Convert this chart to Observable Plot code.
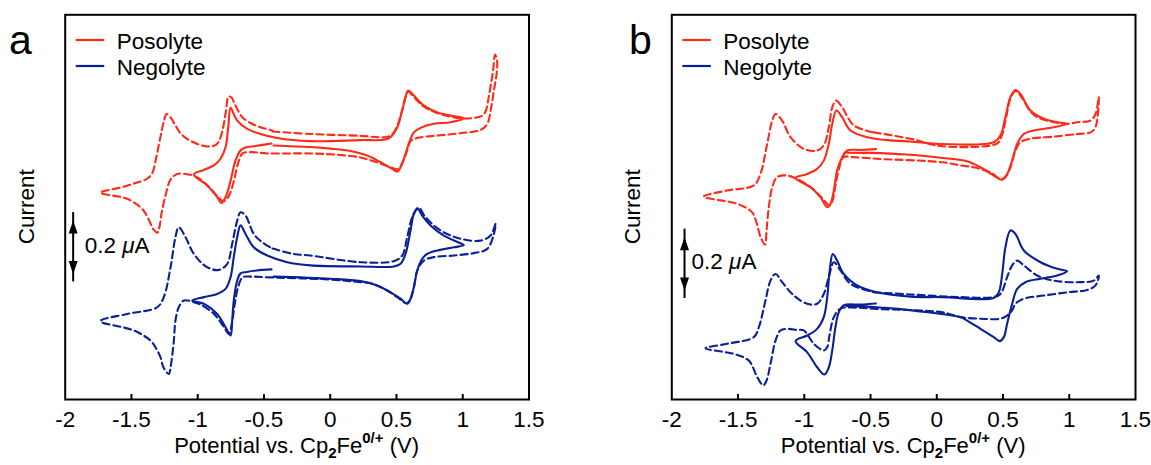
<!DOCTYPE html>
<html>
<head>
<meta charset="utf-8">
<script src="https://cdn.jsdelivr.net/npm/d3@7"></script>
<script src="https://cdn.jsdelivr.net/npm/@observablehq/plot@0.6"></script>
<style>
  body { margin: 0; background: #fff; }
  #charts { display: flex; width: 1151px; height: 465px; overflow: hidden; }
  #charts svg { flex: none; }
</style>
</head>
<body>
<div id="charts"></div>
<script>
// Cyclic voltammograms, potential E in V vs Cp2Fe0/+, current I in nA
// (each trace carries its own vertical offset so the curves stack).

const xTicks = [-2, -1.5, -1, -0.5, 0, 0.5, 1, 1.5];
const seriesNames = ["Posolyte", "Negolyte"];
const seriesColors = ["#ff2a17", "#0b1f96"];
const scaleBarMicroamps = 0.2;

// ---- panel a ----
const aPosSolidE = [-0.443,-0.564,-0.639,-0.677,-0.715,-0.752,-0.790,-0.823,-0.853,-0.928,-1.029,-0.954,-0.878,-0.828,-0.790,-0.770,-0.752,-0.730,-0.702,-0.626,-0.526,-0.400,-0.149,0.229,0.417,0.455,0.506,0.543,0.568,0.589,0.631,0.706,0.808,0.908,1.008,0.908,0.782,0.682,0.631,0.601,0.568,0.531,0.506,0.468,0.380,0.279,0.153,0.002,-0.149,-0.428];
const aPosSolidI = [960,951,945,934,896,821,759,737,759,803,844,861,878,903,946,1021,1095,1073,1046,1015,996,981,969,973,975,984,1021,1084,1134,1159,1140,1103,1077,1065,1055,1040,1034,1019,1002,971,921,871,855,865,890,915,932,941,947,953];

const aPosDashE = [-0.435,-0.149,0.229,0.417,0.463,0.504,0.542,0.568,0.587,0.629,0.704,0.810,0.908,1.006,1.082,1.142,1.172,1.191,1.210,1.229,1.244,1.259,1.255,1.235,1.215,1.185,1.134,0.983,0.808,0.657,0.606,0.581,0.546,0.508,0.432,0.327,0.229,0.078,-0.149,-0.473,-0.602,-0.662,-0.696,-0.730,-0.768,-0.805,-0.843,-0.918,-1.002,-1.069,-1.155,-1.205,-1.243,-1.273,-1.288,-1.303,-1.334,-1.356,-1.394,-1.432,-1.532,-1.734,-1.583,-1.469,-1.379,-1.341,-1.318,-1.296,-1.273,-1.254,-1.235,-1.205,-1.168,-1.130,-1.077,-1.032,-0.979,-0.926,-0.881,-0.851,-0.828,-0.805,-0.786,-0.768,-0.745,-0.722,-0.692,-0.662,-0.602,-0.526,-0.435];
const aPosDashI = [1005,996,989,984,992,1024,1084,1133,1155,1136,1099,1074,1061,1054,1056,1063,1080,1121,1174,1234,1294,1271,1219,1159,1096,1034,1011,999,990,981,969,934,889,864,876,894,908,917,923,923,928,923,885,814,761,743,758,799,833,844,846,825,765,698,649,626,638,660,698,721,753,776,795,812,829,851,896,949,1005,1046,1071,1058,1028,998,977,965,954,949,951,960,983,1028,1084,1136,1133,1110,1080,1058,1037,1021,1009];

const aNegSolidE = [-0.443,-0.556,-0.632,-0.677,-0.702,-0.728,-0.740,-0.752,-0.790,-0.853,-0.954,-1.042,-0.954,-0.853,-0.790,-0.752,-0.728,-0.702,-0.677,-0.639,-0.577,-0.475,-0.325,-0.149,0.229,0.480,0.531,0.568,0.606,0.631,0.661,0.694,0.757,0.857,0.983,1.008,0.933,0.808,0.732,0.694,0.657,0.631,0.606,0.581,0.531,0.455,0.355,0.229,0.002,-0.428];
const aNegSolidI = [488,484,478,473,446,371,296,240,271,321,359,371,384,396,415,459,534,609,653,621,571,540,515,503,499,499,509,546,634,696,715,690,653,615,586,579,571,559,546,528,484,421,378,359,378,402,428,444,453,461];

const aNegDashE = [-0.435,-0.275,-0.149,0.229,0.480,0.543,0.581,0.619,0.666,0.719,0.832,0.983,1.134,1.210,1.248,1.235,1.185,1.084,0.933,0.782,0.706,0.657,0.631,0.601,0.576,0.506,0.430,0.304,0.229,0.002,-0.451,-0.602,-0.662,-0.696,-0.722,-0.741,-0.765,-0.805,-0.881,-0.979,-1.029,-1.105,-1.143,-1.168,-1.180,-1.205,-1.218,-1.258,-1.281,-1.318,-1.356,-1.482,-1.734,-1.532,-1.306,-1.256,-1.205,-1.168,-1.143,-1.092,-1.029,-0.928,-0.841,-0.777,-0.740,-0.702,-0.677,-0.639,-0.577,-0.511,-0.435];
const aNegDashI = [566,546,540,515,519,540,609,684,720,684,634,603,596,615,659,621,565,549,540,534,521,484,421,371,361,384,409,436,440,450,458,461,458,420,353,289,246,274,323,356,365,371,346,296,221,121,96,120,159,195,221,259,294,321,346,384,496,609,646,609,546,496,486,509,584,671,702,690,621,589,566];

// ---- panel b ----
const bPosSolidE = [-0.459,-0.576,-0.676,-0.714,-0.752,-0.777,-0.802,-0.827,-0.878,-0.953,-1.066,-0.978,-0.903,-0.853,-0.815,-0.789,-0.757,-0.714,-0.651,-0.525,-0.325,-0.198,0.043,0.430,0.481,0.518,0.556,0.594,0.632,0.707,0.808,0.909,0.984,0.883,0.732,0.657,0.607,0.569,0.531,0.494,0.430,0.330,0.229,0.043,-0.231,-0.508,-0.682];
const bPosSolidI = [939,936,934,909,859,784,734,721,759,796,831,846,865,896,959,1034,1084,1059,1009,984,971,968,958,965,990,1059,1134,1161,1146,1084,1053,1040,1034,1021,1009,996,959,896,846,824,840,871,894,906,919,925,926];

const bPosDashE = [-0.475,-0.198,0.043,0.458,0.488,0.522,0.556,0.594,0.632,0.707,0.758,0.858,0.984,1.060,1.160,1.198,1.223,1.198,1.160,1.060,0.883,0.707,0.632,0.594,0.556,0.518,0.481,0.405,0.279,0.179,0.043,-0.455,-0.629,-0.704,-0.738,-0.765,-0.787,-0.810,-0.863,-0.938,-1.029,-1.129,-1.205,-1.242,-1.268,-1.285,-1.296,-1.331,-1.361,-1.393,-1.506,-1.758,-1.582,-1.381,-1.331,-1.280,-1.242,-1.217,-1.167,-1.104,-1.004,-0.903,-0.853,-0.815,-0.789,-0.759,-0.714,-0.626,-0.475];
const bPosDashI = [1002,978,950,961,986,1054,1129,1157,1140,1080,1059,1043,1034,1040,1046,1071,1134,1021,1002,996,986,978,965,934,871,834,828,852,871,878,890,903,909,909,866,803,746,728,754,791,821,840,834,796,721,634,581,611,664,702,734,761,784,803,846,959,1046,1071,1046,984,940,934,953,1021,1096,1121,1096,1028,1002];

const bNegSolidE = [-0.459,-0.576,-0.704,-0.740,-0.765,-0.789,-0.815,-0.848,-0.903,-0.978,-1.066,-0.978,-0.903,-0.853,-0.827,-0.808,-0.785,-0.752,-0.702,-0.601,-0.450,-0.198,0.043,0.430,0.468,0.494,0.518,0.556,0.594,0.657,0.783,0.909,0.984,0.909,0.783,0.669,0.607,0.569,0.531,0.506,0.475,0.430,0.330,0.229,0.179,-0.066,-0.289,-0.455,-0.682];
const bNegSolidI = [360,356,353,327,271,184,121,94,121,177,219,240,265,309,384,484,546,521,471,428,402,386,384,381,402,471,571,634,621,559,515,490,481,465,453,440,415,359,284,234,219,234,265,296,309,327,340,346,351];

const bNegDashE = [-0.475,-0.198,0.179,0.430,0.481,0.531,0.569,0.607,0.657,0.758,0.883,1.060,1.185,1.223,1.198,1.135,0.984,0.808,0.657,0.594,0.569,0.531,0.481,0.330,0.179,0.043,-0.455,-0.651,-0.727,-0.777,-0.810,-0.827,-0.853,-0.928,-1.004,-1.054,-1.129,-1.180,-1.217,-1.255,-1.285,-1.310,-1.355,-1.419,-1.532,-1.746,-1.582,-1.381,-1.343,-1.293,-1.255,-1.217,-1.167,-1.079,-0.978,-0.903,-0.853,-0.815,-0.777,-0.727,-0.651,-0.475];
const bNegDashI = [402,394,384,384,396,459,503,521,503,465,446,440,446,465,428,411,402,390,378,359,334,315,303,303,309,327,340,345,341,309,240,196,184,209,259,261,265,259,221,134,71,53,84,146,171,192,209,234,271,371,446,471,440,390,359,359,396,459,515,484,434,402];

// Scale bar: potential where it sits and the current at its foot (nA)
const scaleBarE = [-1.94, -1.904];
const scaleBarFoot = [471, 409];

const rows = (E, I) => E.map((e, i) => ({E: e, I: I[i]}));

const panels = [
  {
    letter: "a", width: 576, marginLeft: 64.7, marginRight: 47.5, letterX: 9, labelDx: 12,
    traces: [
      {E: aPosDashE, I: aPosDashI, s: 0, dashed: true},
      {E: aPosSolidE, I: aPosSolidI, s: 0, dashed: false},
      {E: aNegDashE, I: aNegDashI, s: 1, dashed: true},
      {E: aNegSolidE, I: aNegSolidI, s: 1, dashed: false}
    ],
    bar: 0
  },
  {
    letter: "b", width: 575, marginLeft: 95.3, marginRight: 16, letterX: 53, labelDx: 7.5,
    traces: [
      {E: bPosDashE, I: bPosDashI, s: 0, dashed: true},
      {E: bPosSolidE, I: bPosSolidI, s: 0, dashed: false},
      {E: bNegDashE, I: bNegDashI, s: 1, dashed: true},
      {E: bNegSolidE, I: bNegSolidI, s: 1, dashed: false}
    ],
    bar: 1
  }
];

// narrow filled arrowheads for the scale bar (tip at the anchor point)
const headUp = {draw(c) { c.moveTo(0, 0); c.lineTo(4.5, 13); c.lineTo(-4.5, 13); c.closePath(); }};
const headDown = {draw(c) { c.moveTo(0, 0); c.lineTo(4.5, -13); c.lineTo(-4.5, -13); c.closePath(); }};

const font = "'Liberation Sans', Arial, Helvetica, sans-serif";
const height = 465, marginTop = 14.3, marginBottom = 66;
const frameH = height - marginTop - marginBottom;

for (const p of panels) {
  const bar = [{E: scaleBarE[p.bar], lo: scaleBarFoot[p.bar], hi: scaleBarFoot[p.bar] + scaleBarMicroamps * 1000}];
  const chart = Plot.plot({
    width: p.width, height,
    marginLeft: p.marginLeft, marginRight: p.marginRight, marginTop, marginBottom,
    style: {fontFamily: font, fontSize: "22px", color: "black", background: "white"},
    x: {domain: [-2, 1.5]},
    y: {domain: [0, 1443], axis: null},
    marks: [
      ...p.traces.map(t => Plot.line(rows(t.E, t.I), {
        x: "E", y: "I",
        stroke: seriesColors[t.s], strokeWidth: 2.1,
        strokeDasharray: t.dashed ? "7,4" : null,
        curve: "catmull-rom"
      })),
      Plot.ruleX(bar, {x: "E", y1: "lo", y2: "hi", stroke: "black", strokeWidth: 2, insetTop: 8, insetBottom: 8}),
      Plot.dot(bar, {x: "E", y: "hi", symbol: headUp, fill: "black", stroke: "none"}),
      Plot.dot(bar, {x: "E", y: "lo", symbol: headDown, fill: "black", stroke: "none"}),
      Plot.tickX(xTicks.slice(1, -1), {x: d => d, stroke: "black", strokeWidth: 2, insetTop: frameH - 5}),
      Plot.axisX(xTicks, {tickSize: 0, tickPadding: 12, fontSize: 22.5, tickFormat: d => String(d), label: null}),
      Plot.frame({stroke: "black", strokeWidth: 2})
    ]
  });

  const svg = d3.select(chart);
  const xs = chart.scale("x"), ys = chart.scale("y");
  const frameL = p.marginLeft, frameR = p.width - p.marginRight;
  const cx = (frameL + frameR) / 2, cy = marginTop + frameH / 2;

  // panel letter
  svg.append("text").attr("x", p.letterX).attr("y", 53.5).attr("text-anchor", "start")
    .attr("font-size", 41).attr("fill", "black").text(p.letter);

  // legend
  seriesNames.forEach((name, i) => {
    const y = 40 + i * 26;
    svg.append("line").attr("x1", frameL + 11).attr("x2", frameL + 39.5)
      .attr("y1", y).attr("y2", y).attr("stroke", seriesColors[i]).attr("stroke-width", 2.2);
    svg.append("text").attr("x", frameL + 52).attr("y", y + 8.5).attr("text-anchor", "start")
      .attr("font-size", 22.5).attr("fill", "black").text(name);
  });

  // y-axis title
  svg.append("text")
    .attr("transform", `translate(${frameL - 31},${cy}) rotate(-90)`)
    .attr("text-anchor", "middle").attr("font-size", 22.5).attr("fill", "black")
    .text("Current");

  // scale bar label
  const b = bar[0];
  const lab = svg.append("text")
    .attr("x", xs.apply(b.E) + p.labelDx)
    .attr("y", ys.apply((b.lo + b.hi) / 2) + 6)
    .attr("text-anchor", "start")
    .attr("font-size", 22.5).attr("fill", "black");
  lab.append("tspan").text(`${scaleBarMicroamps} `);
  lab.append("tspan").attr("font-style", "italic").text("μ");
  lab.append("tspan").text("A");

  // x-axis title with sub/superscripts
  const t = svg.append("text").attr("x", cx).attr("y", 453)
    .attr("text-anchor", "middle").attr("font-size", 22).attr("fill", "black");
  t.append("tspan").text("Potential vs. Cp");
  t.append("tspan").attr("dy", 5).attr("font-size", 15).attr("font-weight", "bold").text("2");
  t.append("tspan").attr("dy", -5).text("Fe");
  t.append("tspan").attr("dy", -10).attr("font-size", 15).attr("font-weight", "bold").text("0/+");
  t.append("tspan").attr("dy", 10).text(" (V)");

  document.getElementById("charts").appendChild(chart);
}
</script>
</body>
</html>
